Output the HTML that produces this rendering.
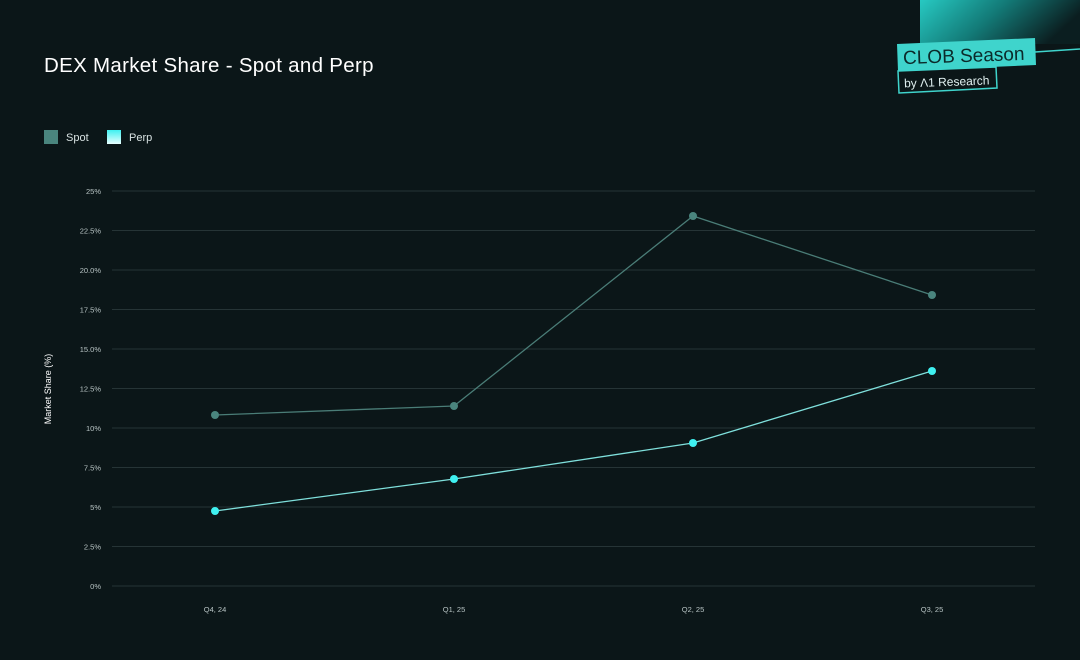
<!DOCTYPE html>
<html><head><meta charset="utf-8"><style>
html,body{margin:0;padding:0;background:#0b1618;width:1080px;height:660px;overflow:hidden;font-family:"Liberation Sans",sans-serif}
</style></head><body>
<svg width="1080" height="660" xmlns="http://www.w3.org/2000/svg" style="display:block">
<defs>
<linearGradient id="g" x1="0" y1="0" x2="1" y2="0.3">
<stop offset="0" stop-color="#27c9c2"/><stop offset="0.5" stop-color="#137b78"/><stop offset="1" stop-color="#0b1e20"/>
</linearGradient>
<linearGradient id="pg" x1="0" y1="0" x2="0" y2="1"><stop offset="0" stop-color="#3ff0f0"/><stop offset="1" stop-color="#e8ffff"/></linearGradient>
</defs>
<rect width="1080" height="660" fill="#0b1618"/>
<rect x="920" y="0" width="160" height="44" fill="url(#g)"/>
<line x1="1035" y1="52" x2="1080" y2="49" stroke="#3fd4cc" stroke-width="1.5"/>
<polygon points="897,44 1035,38 1036,65 898,71" fill="#3fd4cc"/>
<text x="903" y="62" font-size="19" fill="#0b2a2a" transform="rotate(-2 965 55)">CLOB Season</text>
<polygon points="898,71 996,67 997,88 899,93" fill="#0b1618" stroke="#3fd4cc" stroke-width="1.5"/>
<text x="904" y="86" font-size="12" fill="#e0f0f0" transform="rotate(-2 945 80)">by Λ1 Research</text>
<text x="44" y="72" font-size="20.5" letter-spacing="0.3" fill="#ffffff">DEX Market Share - Spot and Perp</text>
<rect x="44" y="130" width="14" height="14" fill="#4a857e"/>
<text x="66" y="141" font-size="11" fill="#d8e2e2">Spot</text>
<rect x="107" y="130" width="14" height="14" fill="url(#pg)"/>
<text x="129" y="141" font-size="11" fill="#d8e2e2">Perp</text>
<g stroke="#263436" stroke-width="1">
<line x1="112" y1="191" x2="1035" y2="191"/><line x1="112" y1="230.5" x2="1035" y2="230.5"/>
<line x1="112" y1="270" x2="1035" y2="270"/><line x1="112" y1="309.5" x2="1035" y2="309.5"/>
<line x1="112" y1="349" x2="1035" y2="349"/><line x1="112" y1="388.5" x2="1035" y2="388.5"/>
<line x1="112" y1="428" x2="1035" y2="428"/><line x1="112" y1="467.5" x2="1035" y2="467.5"/>
<line x1="112" y1="507" x2="1035" y2="507"/><line x1="112" y1="546.5" x2="1035" y2="546.5"/>
<line x1="112" y1="586" x2="1035" y2="586"/>
</g>
<g font-size="7.5" fill="#b8c4c4" text-anchor="end">
<text x="101" y="194">25%</text><text x="101" y="233.5">22.5%</text><text x="101" y="273">20.0%</text>
<text x="101" y="312.5">17.5%</text><text x="101" y="352">15.0%</text><text x="101" y="391.5">12.5%</text>
<text x="101" y="431">10%</text><text x="101" y="470.5">7.5%</text><text x="101" y="510">5%</text>
<text x="101" y="549.5">2.5%</text><text x="101" y="589">0%</text>
</g>
<g font-size="7.5" fill="#b8c4c4" text-anchor="middle">
<text x="215" y="612">Q4, 24</text><text x="454" y="612">Q1, 25</text><text x="693" y="612">Q2, 25</text><text x="932" y="612">Q3, 25</text>
</g>
<text transform="translate(51 389) rotate(-90)" font-size="9" fill="#ffffff" text-anchor="middle">Market Share (%)</text>
<polyline points="215,415 454,406 693,216 932,295" fill="none" stroke="#4a7d77" stroke-width="1.3"/>
<polyline points="215,511 454,479 693,443 932,371" fill="none" stroke="#7fe0dc" stroke-width="1.3"/>
<g fill="#4a857e"><circle cx="215" cy="415" r="4"/><circle cx="454" cy="406" r="4"/><circle cx="693" cy="216" r="4"/><circle cx="932" cy="295" r="4"/></g>
<g fill="#3ff0f0"><circle cx="215" cy="511" r="4"/><circle cx="454" cy="479" r="4"/><circle cx="693" cy="443" r="4"/><circle cx="932" cy="371" r="4"/></g>
</svg>
</body></html>
